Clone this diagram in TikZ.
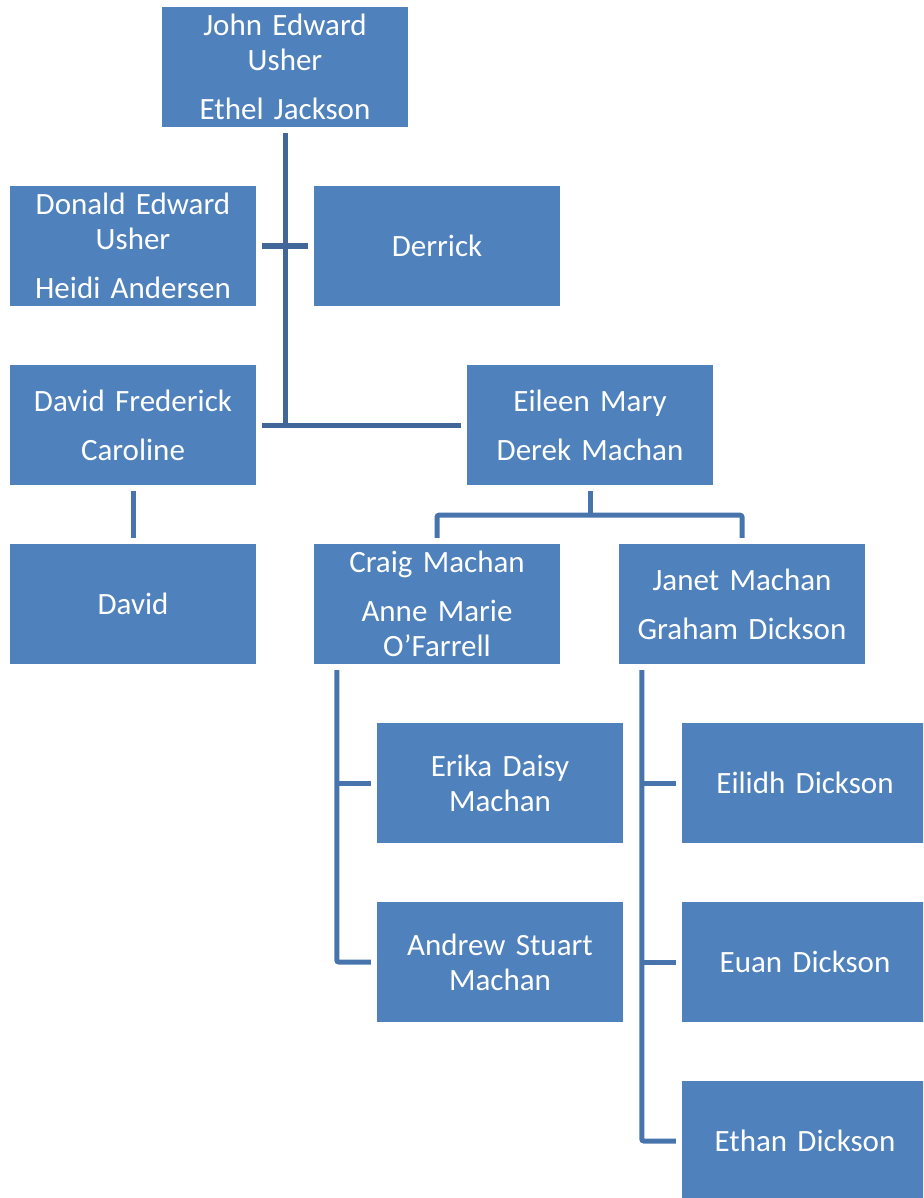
\documentclass[tikz,border=0pt]{standalone}
\usepackage{fontspec}
\setmainfont{Carlito}
\usetikzlibrary{calc}
\definecolor{boxblue}{HTML}{4F81BD}
\definecolor{linedark}{HTML}{41669A}
\definecolor{linemid}{HTML}{4874AE}
\tikzset{
  person/.style={fill=boxblue, draw=none, minimum width=246pt, minimum height=120pt,
    inner sep=0pt, text=white, align=center, text width=244pt,
    font=\fontsize{31}{35}\selectfont},
  linkA/.style={draw=linedark, line width=5pt},
  linkB/.style={draw=linemid, line width=5pt, rounded corners=2pt}
}
\newcommand{\pgap}{\\[14pt]}
\begin{document}
\begin{tikzpicture}[x=1pt,y=-1pt]
\useasboundingbox (0,0) rectangle (923,1198);
\clip (0,0) rectangle (923,1198);
% family boxes
\node[person] (john)    at (285,67)   {John Edward\\Usher\pgap Ethel Jackson};
\node[person] (donald)  at (133,246)  {Donald Edward\\Usher\pgap Heidi Andersen};
\node[person] (derrick) at (437,246)  {Derrick};
\node[person] (davidf)  at (133,425)  {David Frederick\pgap Caroline};
\node[person] (eileen)  at (590,425)  {Eileen Mary\pgap Derek Machan};
\node[person] (david)   at (133,604)  {David};
\node[person] (craig)   at (437,604)  {Craig Machan\pgap Anne Marie\\O’Farrell};
\node[person] (janet)   at (742,604)  {Janet Machan\pgap Graham Dickson};
\node[person] (erika)   at (500,783)  {Erika Daisy\\Machan};
\node[person] (andrew)  at (500,962)  {Andrew Stuart\\Machan};
\node[person] (eilidh)  at (805,783)  {Eilidh Dickson};
\node[person] (euan)    at (805,962)  {Euan Dickson};
\node[person] (ethan)   at (805,1141) {Ethan Dickson};
% first generation links
\draw[linkA] ($(john.south)+(0,6)$) -- (john.south |- davidf.east);
\draw[linkA] ($(donald.east)+(6,0)$) -- ($(derrick.west)+(-6,0)$);
\draw[linkA] ($(davidf.east)+(6,0)$) -- ($(eileen.west)+(-6,0)$);
% descendants
\draw[linkB] ($(davidf.south)+(0,6)$) -- ($(david.north)+(0,-6)$);
\coordinate (efork) at ($(eileen.south)+(0,30)$);
\draw[linkB] ($(eileen.south)+(0,6)$) -- (efork);
\draw[linkB] ($(craig.north)+(0,-6)$) |- (efork) -| ($(janet.north)+(0,-6)$);
\coordinate (ctrunk) at ($(craig.south west)+(23,6)$);
\draw[linkB] (ctrunk) |- ($(andrew.west)+(-6,0)$);
\draw[linkB] (ctrunk |- erika.west) -- ($(erika.west)+(-6,0)$);
\coordinate (jtrunk) at ($(janet.south west)+(23,6)$);
\draw[linkB] (jtrunk) |- ($(ethan.west)+(-6,0)$);
\draw[linkB] (jtrunk |- eilidh.west) -- ($(eilidh.west)+(-6,0)$);
\draw[linkB] (jtrunk |- euan.west) -- ($(euan.west)+(-6,0)$);
\end{tikzpicture}
\end{document}
